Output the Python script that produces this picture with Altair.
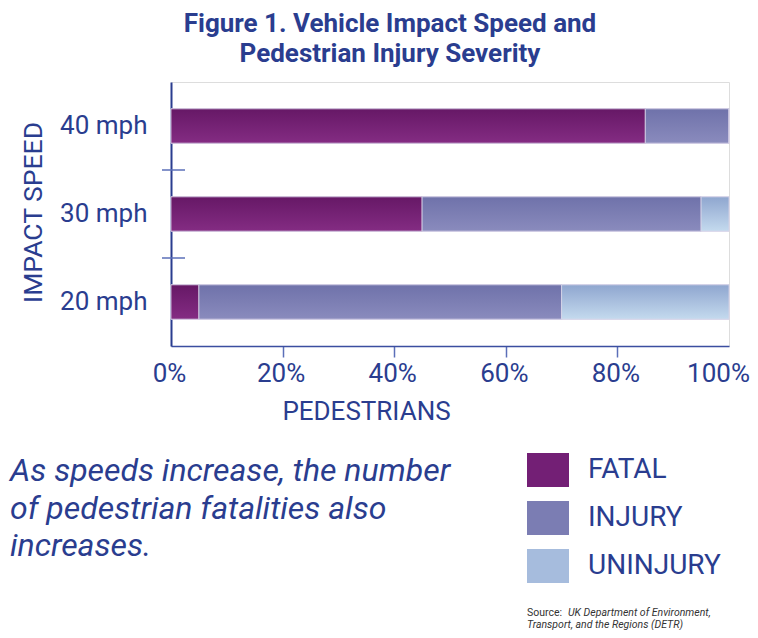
import altair as alt
import pandas as pd

# ---- data ----
speeds = ["40 mph", "30 mph", "20 mph"]
categories = ["FATAL", "INJURY", "UNINJURY"]
fatal = [85, 45, 5]
injury = [15, 50, 65]
uninjured = [0, 5, 30]
x_ticks = [0, 0.2, 0.4, 0.6, 0.8, 1.0]

title_lines = ["Figure 1. Vehicle Impact Speed and", "Pedestrian Injury Severity"]
note_lines = ["As speeds increase, the number", "of pedestrian fatalities also", "increases."]
source_label = ["Source:"]
source_lines = ["UK Department of Environment,", "Transport, and the Regions (DETR)"]

# ---- styling ----
NAVY = "#2a3d8f"
FRAME = "#5b6fb8"
FONT = "Roboto"
flat_colors = ["#731f75", "#7b7db3", "#a6bcdd"]
grad_stops = {
    "FATAL": ("#661866", "#842c83"),
    "INJURY": ("#6f72aa", "#8a8bbd"),
    "UNINJURY": ("#8fa6cf", "#c4daee"),
}


def vgrad(top, bottom):
    return {"gradient": "linear", "x1": 0, "y1": 0, "x2": 0, "y2": 1,
            "stops": [{"offset": 0, "color": top}, {"offset": 1, "color": bottom}]}


rows = []
for i, s in enumerate(speeds):
    for j, (c, v) in enumerate(zip(categories, [fatal[i], injury[i], uninjured[i]])):
        rows.append({"speed": s, "category": c, "order": j, "value": v / 100})
df = pd.DataFrame(rows)

y_enc = alt.Y("speed:N", sort=speeds,
              scale=alt.Scale(paddingInner=0.61, paddingOuter=0.305),
              axis=alt.Axis(title="IMPACT SPEED", ticks=False, labelPadding=24,
                            labelFont=FONT, labelFontSize=26, labelColor=NAVY,
                            titleFont=FONT, titleFontSize=26.5, titleFontWeight="normal",
                            titleColor=NAVY, titleAngle=-90, titleX=-138, titleY=130,
                            titleAlign="center", titleBaseline="middle",
                            domainColor=NAVY, domainWidth=2))

x_enc = alt.X("value:Q", stack="zero",
              scale=alt.Scale(domain=[0, 1], nice=False),
              axis=alt.Axis(title="PEDESTRIANS", values=x_ticks, format=".0%",
                            grid=False, tickSize=11, tickWidth=1.5, tickColor=FRAME,
                            tickOpacity={"condition": {"test": "datum.value == 0 || datum.value == 1", "value": 0}, "value": 1},
                            labelOffset={"condition": {"test": "datum.value == 1", "value": -11}, "value": -2},
                            labelFont=FONT, labelFontSize=26, labelColor=NAVY, labelPadding=3,
                            labelFlush=False,
                            titleFont=FONT, titleFontSize=26, titleFontWeight="normal",
                            titleColor=NAVY, titleX=195, titleY=73, titleAlign="center",
                            titleBaseline="alphabetic",
                            domainColor="#3b4ea0", domainWidth=1.5))

base = alt.Chart(df).mark_bar(stroke="#d9d4e8", strokeWidth=0.8).encode(
    x=x_enc,
    y=y_enc,
    order=alt.Order("order:Q"),
    color=alt.Color("category:N", sort=categories,
                    scale=alt.Scale(domain=categories, range=flat_colors),
                    legend=alt.Legend(title=None, orient="none", legendX=356, legendY=367,
                                      direction="vertical", padding=0,
                                      symbolType="M-1,-0.81H1V0.81H-1Z", symbolSize=1764,
                                      symbolOpacity=1, symbolStrokeWidth=0,
                                      labelFont=FONT, labelFontSize=28, labelColor=NAVY,
                                      labelOffset=19, rowPadding=9, labelLimit=300)),
)

overlay = alt.Chart(df).mark_bar(stroke="#d9d4e8", strokeWidth=0.8).encode(
    x=alt.X("value:Q", stack="zero"),
    y=alt.Y("speed:N", sort=speeds),
    order=alt.Order("order:Q"),
    color=alt.ColorValue(
        value=vgrad(*grad_stops["UNINJURY"]),
        condition=[
            {"test": "datum.category === 'FATAL'", "value": vgrad(*grad_stops["FATAL"])},
            {"test": "datum.category === 'INJURY'", "value": vgrad(*grad_stops["INJURY"])},
        ],
    ),
)

sep_df = pd.DataFrame({"speed": speeds[:2]})
separators = alt.Chart(sep_df).mark_rule(color=FRAME, strokeWidth=1.5, yOffset=44).encode(
    y=alt.Y("speed:N", sort=speeds),
    x=alt.value(-9),
    x2=alt.value(14),
)

one = pd.DataFrame({"k": [0]})

title_txt = alt.Chart(one).mark_text(
    font=FONT, fontSize=26, fontWeight="bold", color=NAVY, align="center",
    baseline="alphabetic", lineHeight=30,
).encode(x=alt.value(219), y=alt.value(-50), text=alt.value(title_lines))

note_txt = alt.Chart(one).mark_text(
    font=FONT, fontSize=32, fontStyle="italic", color=NAVY, align="left",
    baseline="alphabetic", lineHeight=37.5,
).encode(x=alt.value(-161), y=alt.value(399), text=alt.value(note_lines))

src_a = alt.Chart(one).mark_text(
    font="Roboto", fontSize=10.5, color="#333333", align="left", baseline="alphabetic",
).encode(x=alt.value(356), y=alt.value(534), text=alt.value(source_label[0]))

src_b = alt.Chart(one).mark_text(
    font="Roboto", fontSize=10.5, fontStyle="italic", color="#333333", align="left",
    baseline="alphabetic",
).encode(x=alt.value(397), y=alt.value(534), text=alt.value(source_lines[0]))

src_c = alt.Chart(one).mark_text(
    font="Roboto", fontSize=10.5, fontStyle="italic", color="#333333", align="left",
    baseline="alphabetic",
).encode(x=alt.value(356), y=alt.value(545.5), text=alt.value(source_lines[1]))

chart = alt.layer(base, overlay, separators, title_txt, note_txt, src_a, src_b, src_c).properties(
    width=558, height=264,
    padding={"left": 163, "top": 74, "right": 21, "bottom": 284},
    autosize=alt.AutoSizeParams(type="none"),
).configure_view(stroke=FRAME, strokeWidth=1.5).configure(background="white")

chart.save("out.html", embed_options={"renderer": "svg", "actions": False})
